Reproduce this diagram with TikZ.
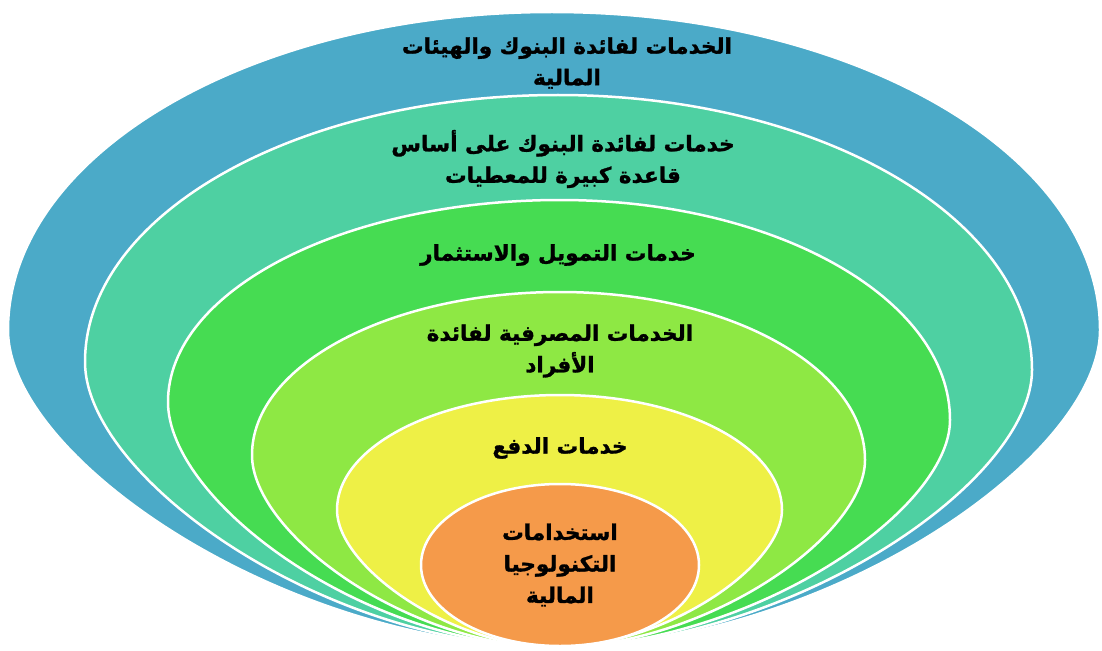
\documentclass[tikz,border=0pt]{standalone}
\usepackage{fontspec}
\newfontfamily\arabicfont[Script=Arabic, BoldFeatures={FakeBold=1.3}]{DejaVu Sans}
\TeXXeTstate=1
\definecolor{cblue}{RGB}{75,170,200}
\definecolor{cteal}{RGB}{78,208,162}
\definecolor{cgreen}{RGB}{70,220,82}
\definecolor{clime}{RGB}{142,232,68}
\definecolor{cyellow}{RGB}{238,240,70}
\definecolor{corange}{RGB}{245,154,74}
\tikzset{
  ring/.style={fill=#1, draw=white, line width=2.5pt},
  lbl/.style={font=\arabicfont\bfseries\fontsize{21.5}{31.5}\selectfont, align=center, text=black, inner sep=0pt},
}
\newcommand\myring[7]{%
  \pgfmathsetmacro\pa{#3+0.4*(648-#3)}%
  \pgfmathsetmacro\pb{555-0.5*(555-#2)}%
  \pgfmathsetmacro\pc{#7+0.4*(648-#7)}%
  \pgfmathsetmacro\pd{555+0.5*(#6-555)}%
  \pgfmathsetmacro\qa{#3-0.5523*(#3-#5)}%
  \pgfmathsetmacro\qb{#4-0.5523*(#4-#2)}%
  \pgfmathsetmacro\qc{#4+0.5523*(#6-#4)}%
  \pgfmathsetmacro\qd{#7-0.5523*(#7-#5)}%
  \draw[ring=#1] (555,648) .. controls (\pb,645) and (#2,\pa) .. (#2,#3)
    .. controls (#2,\qa) and (\qb,#5) .. (#4,#5)
    .. controls (\qc,#5) and (#6,\qd) .. (#6,#7)
    .. controls (#6,\pc) and (\pd,645) .. cycle;
}
\begin{document}
\begin{tikzpicture}[x=1pt,y=-1pt]
\useasboundingbox (0,0) rectangle (1102,650);
\myring{cblue}{8}{330}{552}{12}{1100}{330}
\myring{cteal}{85}{362}{558}{95}{1032}{370}
\myring{cgreen}{168}{402}{560}{200}{950}{420}
\myring{clime}{252}{455}{560}{292}{865}{460}
\myring{cyellow}{337}{510}{560}{395}{782}{510}
\draw[ring=corange] (560,565) ellipse [x radius=139, y radius=81];
\node[lbl] (t1) at (567,63) {\beginR الخدمات لفائدة البنوك والهيئات\endR\\\beginR المالية\endR};
\node[lbl] (t2) at (563,159) {\beginR خدمات لفائدة البنوك على أساس\endR\\\beginR قاعدة كبيرة للمعطيات\endR};
\node[lbl] (t3) at (558,255) {\beginR خدمات التمويل والاستثمار\endR};
\node[lbl] (t4) at (560,351) {\beginR الخدمات المصرفية لفائدة\endR\\\beginR الأفراد\endR};
\node[lbl] (t5) at (560,448) {\beginR خدمات الدفع\endR};
\node[lbl] (t6) at (560,565) {\beginR استخدامات\endR\\\beginR التكنولوجيا\endR\\\beginR المالية\endR};
\end{tikzpicture}
\end{document}
